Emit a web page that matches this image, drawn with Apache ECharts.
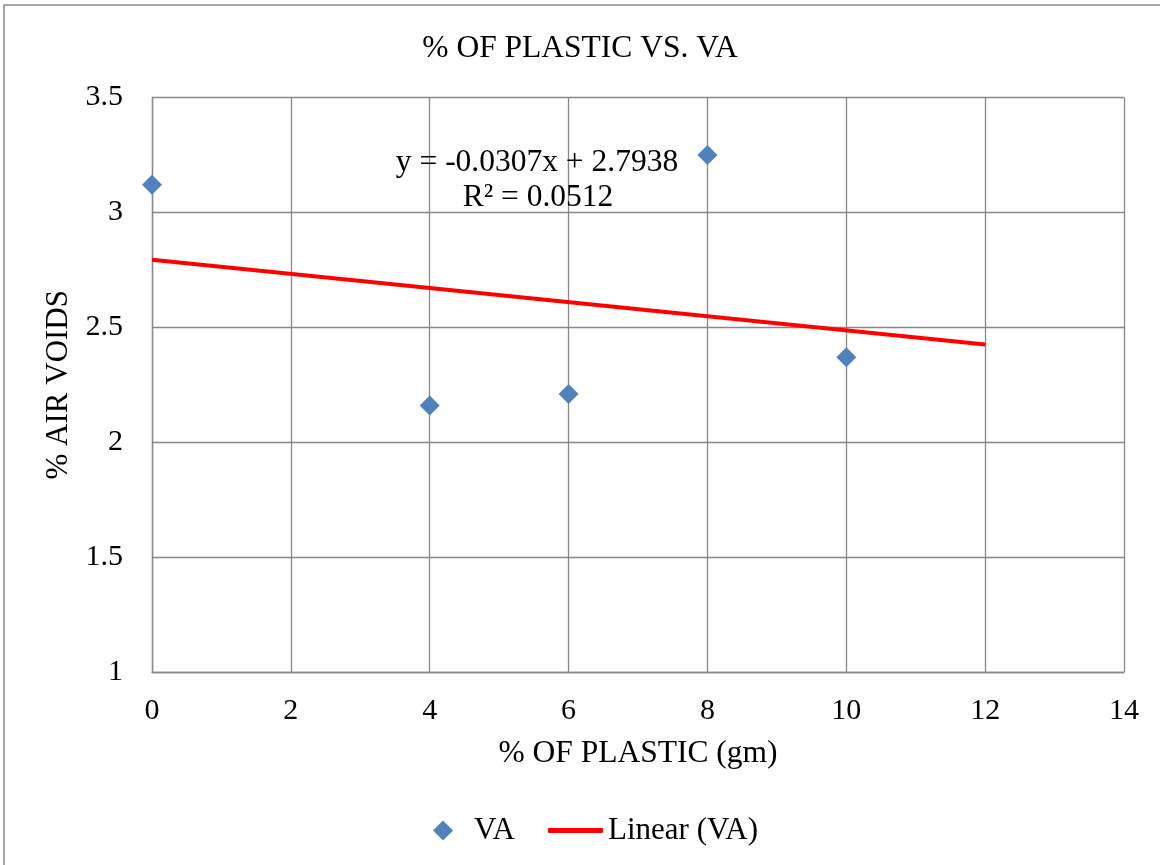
<!DOCTYPE html>
<html>
<head>
<meta charset="utf-8">
<script src="https://cdn.jsdelivr.net/npm/echarts@6/dist/echarts.min.js"></script>
<style>html,body{margin:0;padding:0;background:#fff;}#chart{width:1160px;height:865px;}</style>
</head>
<body>
<div id="chart"></div>
<script>
var plasticPct = [0, 4, 6, 8, 10];
var airVoids = [3.12, 2.16, 2.21, 3.25, 2.37];
var trendX = [0, 12];
var trendY = [2.7938, 2.4254];
var xTicks = [0, 2, 4, 6, 8, 10, 12, 14];
var yTicks = [1, 1.5, 2, 2.5, 3, 3.5];
var equationText = 'y = -0.0307x + 2.7938';
var r2Text = 'R\u00B2 = 0.0512';

var FONT = '"Liberation Serif", "Times New Roman", serif';
var chart = echarts.init(document.getElementById('chart'));
var scatterData = plasticPct.map(function (x, i) { return [x, airVoids[i]]; });
var trendData = trendX.map(function (x, i) { return [x, trendY[i]]; });

chart.setOption({
  backgroundColor: '#fff',
  animation: false,
  textStyle: { fontFamily: FONT, color: '#000' },
  title: {
    text: '% OF PLASTIC VS. VA',
    left: 'center',
    top: 33,
    padding: 0,
    textStyle: { fontFamily: FONT, fontSize: 31.5, fontWeight: 'normal', color: '#000' }
  },
  grid: { left: 152, right: 36, top: 97.5, bottom: 193, containLabel: false },
  xAxis: {
    type: 'value',
    min: xTicks[0],
    max: xTicks[xTicks.length - 1],
    interval: 2,
    name: '% OF PLASTIC (gm)',
    nameLocation: 'middle',
    nameGap: 66,
    nameTextStyle: { fontFamily: FONT, fontSize: 31.5, color: '#000' },
    axisLine: { show: true, lineStyle: { color: '#888', width: 1.3 } },
    axisTick: { show: false },
    axisLabel: { fontFamily: FONT, fontSize: 30, color: '#000', margin: 24 },
    splitLine: { show: true, lineStyle: { color: '#888', width: 1.3 } }
  },
  yAxis: {
    type: 'value',
    min: yTicks[0],
    max: yTicks[yTicks.length - 1],
    interval: 0.5,
    name: '% AIR VOIDS',
    nameLocation: 'middle',
    nameGap: 78,
    nameRotate: 90,
    nameTextStyle: { fontFamily: FONT, fontSize: 31, color: '#000' },
    axisLine: { show: true, lineStyle: { color: '#888', width: 1.3 } },
    axisTick: { show: false },
    axisLabel: { fontFamily: FONT, fontSize: 30, color: '#000', margin: 29 },
    splitLine: { show: true, lineStyle: { color: '#888', width: 1.3 } }
  },
  legend: [
    {
      data: ['VA'],
      left: 433, top: 815, padding: 0,
      itemWidth: 20, itemHeight: 20, itemGap: 0,
      textStyle: { fontFamily: FONT, fontSize: 31, color: '#000', padding: [0, 0, 0, 16] }
    },
    {
      data: [{ name: 'Linear (VA)', icon: 'roundRect' }],
      left: 548, top: 815, padding: 0,
      itemWidth: 55, itemHeight: 5, itemGap: 0,
      itemStyle: { color: '#ff0000' },
      textStyle: { fontFamily: FONT, fontSize: 31, color: '#000' }
    }
  ],
  series: [
    {
      name: 'Linear (VA)',
      type: 'line',
      data: trendData,
      symbol: 'none',
      lineStyle: { color: '#ff0000', width: 4 },
      itemStyle: { color: '#ff0000' },
      z: 2
    },
    {
      name: 'VA',
      type: 'scatter',
      data: scatterData,
      symbol: 'diamond',
      symbolSize: 20,
      itemStyle: { color: '#4f81bd', opacity: 1 },
      z: 3
    }
  ],
  graphic: [
    {
      type: 'rect',
      shape: { x: 4, y: 5, width: 1170, height: 880 },
      style: { fill: 'none', stroke: '#888', lineWidth: 1.5 },
      silent: true
    },
    {
      type: 'text',
      x: 537, y: 163,
      style: { text: equationText, fontFamily: FONT, fontSize: 31.5, fill: '#000', align: 'center', verticalAlign: 'middle' },
      z: 10
    },
    {
      type: 'text',
      x: 538, y: 198,
      style: { text: r2Text, fontFamily: FONT, fontSize: 31.5, fill: '#000', align: 'center', verticalAlign: 'middle' },
      z: 10
    }
  ]
});
</script>
</body>
</html>
